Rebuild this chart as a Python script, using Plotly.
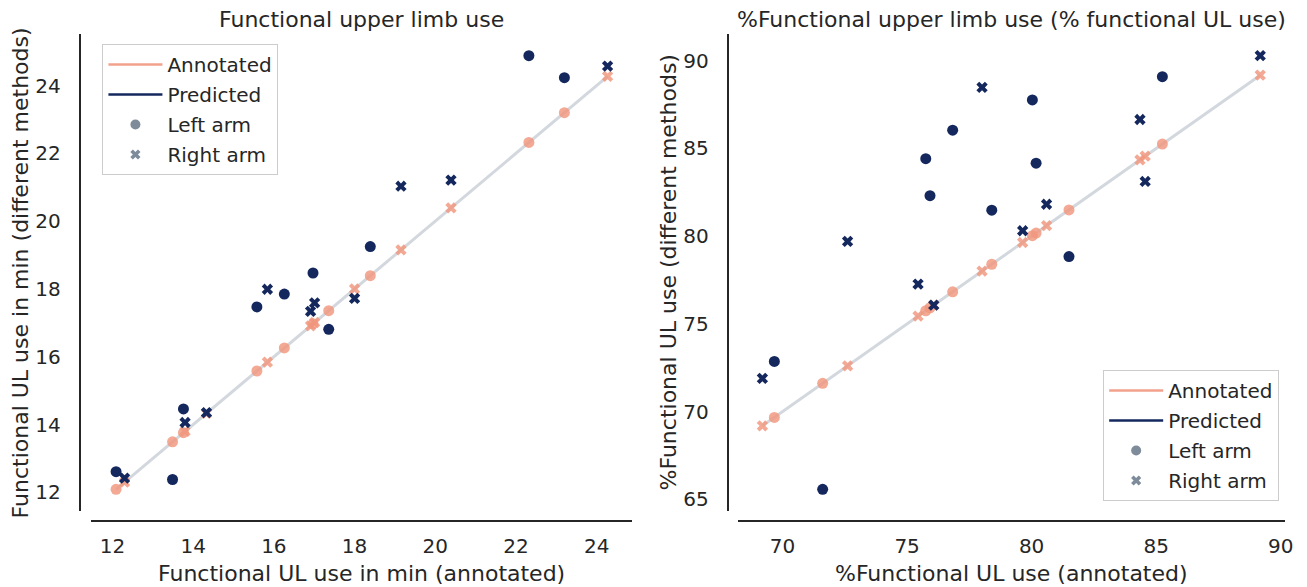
import plotly.graph_objects as go

# ---------------- data ----------------
# Left panel: functional UL use in minutes
min_left_annotated = [12.09, 13.49, 13.76, 15.58, 16.26, 16.97, 17.36, 18.39, 22.32, 23.20]
min_left_predicted = [12.61, 12.38, 14.46, 17.47, 17.85, 18.47, 16.81, 19.25, 24.88, 24.23]
min_right_annotated = [12.30, 13.80, 14.33, 15.84, 16.91, 17.01, 18.00, 19.15, 20.39, 24.27]
min_right_predicted = [12.42, 14.06, 14.35, 17.99, 17.34, 17.59, 17.72, 21.03, 21.21, 24.57]

# Right panel: % functional UL use
pct_left_annotated = [69.67, 71.61, 75.75, 75.92, 76.83, 78.40, 80.03, 80.18, 81.50, 85.25]
pct_left_predicted = [72.86, 65.57, 84.42, 82.31, 86.04, 81.48, 87.77, 84.16, 78.84, 89.09]
pct_right_annotated = [69.19, 72.61, 75.44, 76.07, 78.01, 79.64, 80.60, 84.35, 84.56, 89.18]
pct_right_predicted = [71.89, 79.70, 77.27, 76.07, 88.48, 80.31, 81.82, 86.65, 83.12, 90.29]

x_ticks_left = [12, 14, 16, 18, 20, 22, 24]
y_ticks_left = [12, 14, 16, 18, 20, 22, 24]
x_ticks_right = [70, 75, 80, 85, 90]
y_ticks_right = [65, 70, 75, 80, 85, 90]

titles = ["Functional upper limb use", "%Functional upper limb use (% functional UL use)"]
x_labels = ["Functional UL use in min (annotated)", "%Functional UL use (annotated)"]
y_labels = ["Functional UL use in min (different methods)", "%Functional UL use (different methods)"]

# ---------------- style ----------------
W, H = 1307, 587
NAVY = "#14285e"
SALMON = "rgba(240,150,125,0.82)"
SALMON_LEG = "#f2a18c"
GREY_MK = "#7d8b9a"
DIAG = "#d3d8de"
TXT = "#262626"
FONT = "DejaVu Sans"
TICK_SIZE = 20
LABEL_SIZE = 22
LEG_SIZE = 20

def px_x(p):
    return p / W

def px_y(p):
    return 1 - p / H

def lim(vals):
    lo, hi = min(vals), max(vals)
    m = (hi - lo) * 0.05
    return [lo - m, hi + m]

fig = go.Figure()

panels = [
    dict(la=min_left_annotated, lp=min_left_predicted, ra=min_right_annotated, rp=min_right_predicted,
         xa="x", ya="y", leg="legend"),
    dict(la=pct_left_annotated, lp=pct_left_predicted, ra=pct_right_annotated, rp=pct_right_predicted,
         xa="x2", ya="y2", leg="legend2"),
]

for i, p in enumerate(panels):
    ann_all = p["la"] + p["ra"]
    lo, hi = min(ann_all), max(ann_all)
    # identity line
    fig.add_trace(go.Scatter(x=[lo, hi], y=[lo, hi], mode="lines",
                             line=dict(color=DIAG, width=3), showlegend=False,
                             xaxis=p["xa"], yaxis=p["ya"], hoverinfo="skip"))
    # annotated (on identity)
    fig.add_trace(go.Scatter(x=p["la"], y=p["la"], mode="markers",
                             marker=dict(symbol="circle", size=11, color=SALMON, line=dict(width=0)),
                             showlegend=False, xaxis=p["xa"], yaxis=p["ya"]))
    fig.add_trace(go.Scatter(x=p["ra"], y=p["ra"], mode="markers",
                             marker=dict(symbol="x", size=10, color=SALMON, line=dict(width=0)),
                             showlegend=False, xaxis=p["xa"], yaxis=p["ya"]))
    # predicted
    fig.add_trace(go.Scatter(x=p["la"], y=p["lp"], mode="markers",
                             marker=dict(symbol="circle", size=11, color=NAVY, line=dict(width=0)),
                             showlegend=False, xaxis=p["xa"], yaxis=p["ya"]))
    fig.add_trace(go.Scatter(x=p["ra"], y=p["rp"], mode="markers",
                             marker=dict(symbol="x", size=10, color=NAVY, line=dict(width=0)),
                             showlegend=False, xaxis=p["xa"], yaxis=p["ya"]))
    # legend dummies
    for name, kw in [
        ("Annotated", dict(mode="lines", line=dict(color=SALMON_LEG, width=2.5))),
        ("Predicted", dict(mode="lines", line=dict(color=NAVY, width=2.5))),
        ("Left arm", dict(mode="markers", marker=dict(symbol="circle", size=10, color=GREY_MK))),
        ("Right arm", dict(mode="markers", marker=dict(symbol="x", size=9, color=GREY_MK))),
    ]:
        fig.add_trace(go.Scatter(x=[None], y=[None], name=name, legend=p["leg"],
                                 legendgroup=f"{p['leg']}_{name}", xaxis=p["xa"], yaxis=p["ya"], **kw))

# axes geometry (pixels)
ax_top, ax_bot = 26, 503
spine_y = 512.5
left_x0, left_x1 = 84, 628
right_x0, right_x1 = 734, 1285
left_spine_x, right_spine_x = 72, 724

axis_common = dict(showgrid=False, zeroline=False, showline=True, linecolor=TXT, linewidth=1.6,
                   ticks="", tickfont=dict(family=FONT, size=TICK_SIZE, color=TXT), anchor="free")

x_all_l = min_left_annotated + min_right_annotated
y_all_l = min_left_annotated + min_right_annotated + min_left_predicted + min_right_predicted
x_all_r = pct_left_annotated + pct_right_annotated
y_all_r = pct_left_annotated + pct_right_annotated + pct_left_predicted + pct_right_predicted

legend_common = dict(bgcolor="rgba(255,255,255,0.8)", bordercolor="#cccccc", borderwidth=1,
                     font=dict(family=FONT, size=LEG_SIZE, color=TXT), itemwidth=54, tracegroupgap=1,
                     entrywidth=128, entrywidthmode="pixels")

fig.update_layout(
    width=W, height=H,
    margin=dict(l=0, r=0, t=0, b=0),
    plot_bgcolor="white", paper_bgcolor="white",
    font=dict(family=FONT, color=TXT),
    xaxis=dict(domain=[px_x(left_x0), px_x(left_x1)], range=lim(x_all_l), position=px_y(spine_y),
               tickvals=x_ticks_left, ticklabelstandoff=8, **axis_common),
    yaxis=dict(domain=[px_y(ax_bot), px_y(ax_top)], range=lim(y_all_l), position=px_x(left_spine_x),
               tickvals=y_ticks_left, ticklabelstandoff=14, **axis_common),
    xaxis2=dict(domain=[px_x(right_x0), px_x(right_x1)], range=lim(x_all_r), position=px_y(spine_y),
                tickvals=x_ticks_right, ticklabelstandoff=8, **axis_common),
    yaxis2=dict(domain=[px_y(ax_bot), px_y(ax_top)], range=lim(y_all_r), position=px_x(right_spine_x),
                tickvals=y_ticks_right, ticklabelstandoff=14, **axis_common),
    legend=dict(x=px_x(95), y=px_y(36), xanchor="left", yanchor="top", **legend_common),
    legend2=dict(x=px_x(1279), y=px_y(493), xanchor="right", yanchor="bottom", **legend_common),
)

# titles and axis labels as annotations
annots = []
for (x0, x1, sx, t, xl, yl) in [
    (left_x0, left_x1, left_spine_x, titles[0], x_labels[0], y_labels[0]),
    (right_x0, right_x1, right_spine_x, titles[1], x_labels[1], y_labels[1]),
]:
    cx = (x0 + x1) / 2
    annots.append(dict(text=t, x=px_x(cx), y=px_y(11), xref="paper", yref="paper",
                       xanchor="center", yanchor="middle", showarrow=False,
                       font=dict(family=FONT, size=LABEL_SIZE, color=TXT)))
    annots.append(dict(text=xl, x=px_x(cx), y=px_y(565), xref="paper", yref="paper",
                       xanchor="center", yanchor="middle", showarrow=False,
                       font=dict(family=FONT, size=LABEL_SIZE, color=TXT)))
    annots.append(dict(text=yl, x=px_x(sx - 59), y=px_y((ax_top + ax_bot) / 2), xref="paper", yref="paper",
                       xanchor="center", yanchor="middle", showarrow=False, textangle=-90,
                       font=dict(family=FONT, size=LABEL_SIZE, color=TXT)))
fig.update_layout(annotations=annots)

fig.write_html("out.html")
